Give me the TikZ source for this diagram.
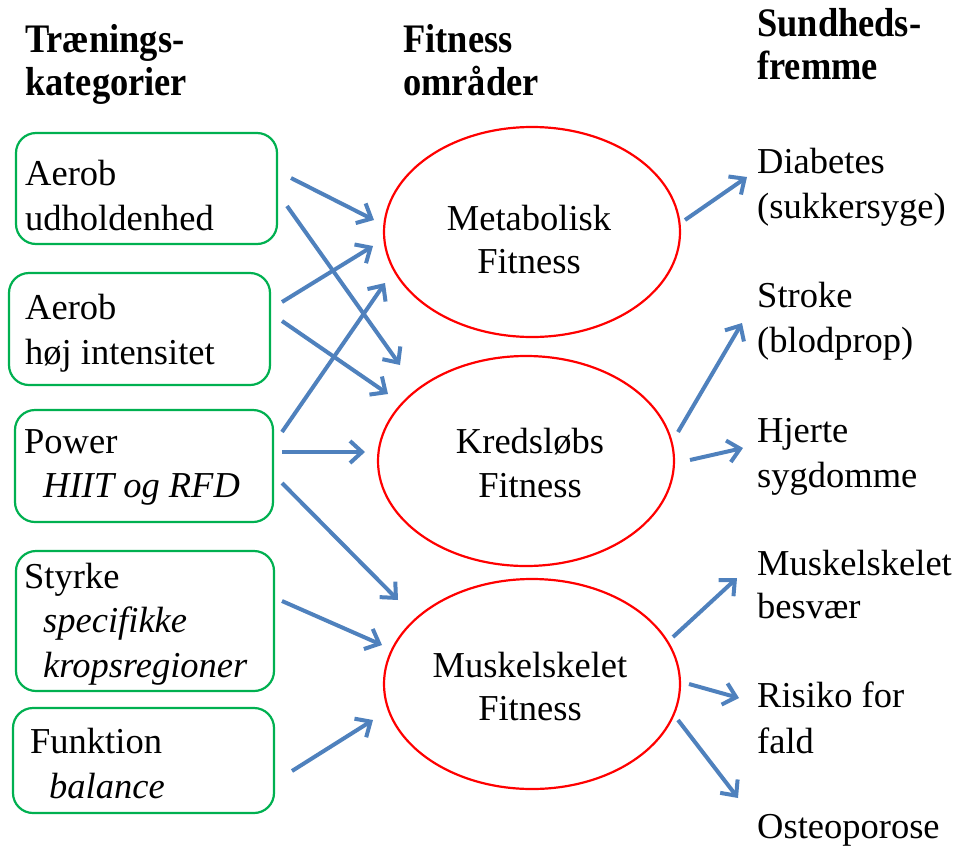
\documentclass[tikz,border=0pt]{standalone}
\usepackage{fontspec}
\setmainfont{Liberation Serif}
\newfontfamily\hdfont{Liberation Serif}[FakeStretch=0.9]
\usetikzlibrary{shapes.geometric,arrows.meta}
\definecolor{boxgreen}{RGB}{0,176,80}
\definecolor{ellred}{RGB}{255,0,0}
\definecolor{arrblue}{RGB}{79,129,189}
\begin{document}
\begin{tikzpicture}[x=1pt,y=-1pt,
  body/.style={anchor=base west, inner sep=0pt, font=\fontsize{36.5}{45}\selectfont},
  bodyc/.style={anchor=base, inner sep=0pt, font=\fontsize{36.5}{45}\selectfont},
  head/.style={anchor=base west, inner sep=0pt, font=\hdfont\bfseries\fontsize{40.5}{45}\selectfont},
  catbox/.style={draw=boxgreen, line width=2.2pt, rounded corners=20pt, inner sep=0pt},
  fitell/.style={draw=ellred, line width=2.2pt, ellipse, inner sep=0pt, minimum width=296pt, minimum height=210pt},
  arr/.style={draw=arrblue, line width=4pt, -{Straight Barb[length=12pt,width=22pt]}, line join=round}
]
\useasboundingbox (0,0) rectangle (961,849);

% headers
\node[head] (h1a) at (25,52) {Trænings-};
\node[head] (h1b) at (25,95) {kategorier};
\node[head] (h2a) at (403,52) {Fitness};
\node[head] (h2b) at (403,95) {områder};
\node[head] (h3a) at (757,36) {Sundheds-};
\node[head] (h3b) at (757,79) {fremme};

% category boxes
\node[catbox, minimum width=261pt, minimum height=111pt] (b1) at (146.5,188.5) {};
\node[catbox, minimum width=261pt, minimum height=112pt] (b2) at (139.5,329) {};
\node[catbox, minimum width=258pt, minimum height=112pt] (b3) at (144,466) {};
\node[catbox, minimum width=258pt, minimum height=140pt] (b4) at (145,621) {};
\node[catbox, minimum width=261pt, minimum height=105pt] (b5) at (143.5,760.5) {};

\node[body] (t1a) at (25,185) {Aerob};
\node[body] (t1b) at (25,230) {udholdenhed};
\node[body] (t2a) at (25,319) {Aerob};
\node[body] (t2b) at (25,364) {høj intensitet};
\node[body] (t3a) at (24,453) {Power};
\node[body] (t3b) at (43,497) {\itshape HIIT og RFD};
\node[body] (t4a) at (24,588) {Styrke};
\node[body] (t4b) at (43,632) {\itshape specifikke};
\node[body] (t4c) at (43,677) {\itshape kropsregioner};
\node[body] (t5a) at (30,753) {Funktion};
\node[body] (t5b) at (49,798) {\itshape balance};

% fitness ellipses
\node[fitell] (e1) at (532,232) {};
\node[fitell] (e2) at (526,461) {};
\node[fitell] (e3) at (532,684) {};
\node[bodyc] (m1a) at (529,230) {Metabolisk};
\node[bodyc] (m1b) at (529,273) {Fitness};
\node[bodyc] (m2a) at (530,453) {Kredsløbs};
\node[bodyc] (m2b) at (530,497) {Fitness};
\node[bodyc] (m3a) at (530,677) {Muskelskelet};
\node[bodyc] (m3b) at (530,720) {Fitness};

% outcomes
\node[body] (r1a) at (757,173) {Diabetes};
\node[body] (r1b) at (757,218) {(sukkersyge)};
\node[body] (r2a) at (757,307) {Stroke};
\node[body] (r2b) at (757,352) {(blodprop)};
\node[body] (r3a) at (757,442) {Hjerte};
\node[body] (r3b) at (757,487) {sygdomme};
\node[body] (r4a) at (757,575) {Muskelskelet};
\node[body] (r4b) at (757,618) {besvær};
\node[body] (r5a) at (757,707) {Risiko for};
\node[body] (r5b) at (757,753) {fald};
\node[body] (r6a) at (757,838) {Osteoporose};

% arrow end points
\coordinate (a1s) at (291,178);  \coordinate (a1e) at (374,220);
\coordinate (a2s) at (287,206);  \coordinate (a2e) at (400,365);
\coordinate (a3s) at (282,302);  \coordinate (a3e) at (373,246);
\coordinate (a4s) at (282,321);  \coordinate (a4e) at (388,394);
\coordinate (a5s) at (282,432);  \coordinate (a5e) at (385,283);
\coordinate (a6s) at (282,452);  \coordinate (a6e) at (365,452);
\coordinate (a7s) at (282,483);  \coordinate (a7e) at (398,600);
\coordinate (a8s) at (282,601);  \coordinate (a8e) at (382,645);
\coordinate (a9s) at (292,771);  \coordinate (a9e) at (373,720);
\coordinate (c1s) at (685,220);  \coordinate (c1e) at (747,177);
\coordinate (c2s) at (678,432);  \coordinate (c2e) at (742,323);
\coordinate (c3s) at (690,460);  \coordinate (c3e) at (743,448);
\coordinate (c4s) at (673,637);  \coordinate (c4e) at (737,578);
\coordinate (c5s) at (689,684);  \coordinate (c5e) at (739,698);
\coordinate (c6s) at (678,720);  \coordinate (c6e) at (738,798);

\foreach \n in {a1,a2,a3,a4,a5,a6,a7,a8,a9,c1,c2,c3,c4,c5,c6}
  \draw[arr] (\n s) -- (\n e);
\end{tikzpicture}
\end{document}
